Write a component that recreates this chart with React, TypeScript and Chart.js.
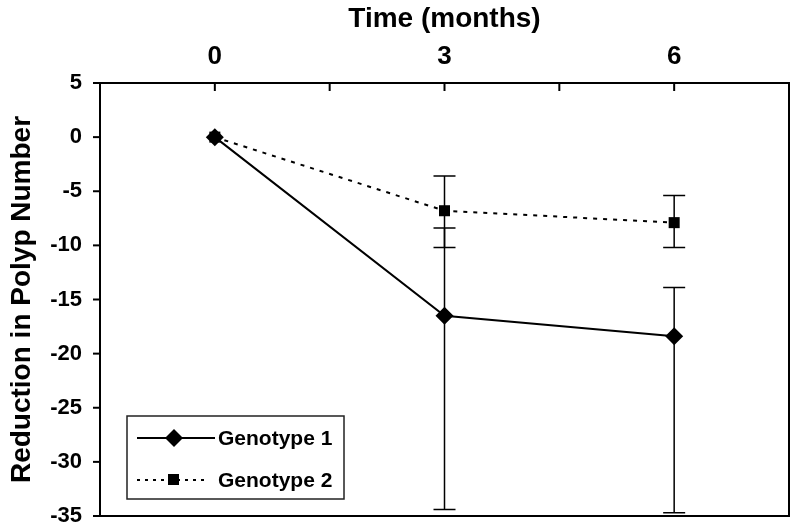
import React, { useEffect, useRef } from "react";
import { Chart, registerables } from "chart.js";
Chart.register(...registerables);

// ---- data ----
const months = [0, 3, 6];
const xTickValues = [-1.5, 0, 1.5, 3, 4.5, 6, 7.5];
const xLabelValues = [0, 3, 6];
const genotype1 = [0, -16.5, -18.4];
const genotype1Upper = [null, -8.4, -13.9];
const genotype1Lower = [null, -34.4, -34.7];
const genotype2 = [0, -6.8, -7.9];
const genotype2Upper = [null, -3.6, -5.4];
const genotype2Lower = [null, -10.2, -10.2];
const seriesNames = ["Genotype 1", "Genotype 2"];
const xTitle = "Time (months)";
const yTitle = "Reduction in Polyp Number";
const yMin = -35;
const yMax = 5;
const yStep = 5;
const xMin = -1.5;
const xMax = 7.5;

const FONT = "'Liberation Sans', Arial, sans-serif";

const errorBars = [
  { upper: genotype1Upper, lower: genotype1Lower },
  { upper: genotype2Upper, lower: genotype2Lower },
];

const errorBarPlugin = {
  id: "errorBars",
  beforeDatasetsDraw(chart: any) {
    const { ctx, scales } = chart;
    ctx.save();
    ctx.strokeStyle = "#000";
    ctx.lineWidth = 1.5;
    errorBars.forEach((eb) => {
      months.forEach((m, i) => {
        const up = eb.upper[i];
        const lo = eb.lower[i];
        if (up == null || lo == null) return;
        const x = scales.x.getPixelForValue(m);
        const y1 = scales.y.getPixelForValue(up);
        const y2 = scales.y.getPixelForValue(lo);
        ctx.beginPath();
        ctx.moveTo(x, y1);
        ctx.lineTo(x, y2);
        ctx.moveTo(x - 11, y1);
        ctx.lineTo(x + 11, y1);
        ctx.moveTo(x - 11, y2);
        ctx.lineTo(x + 11, y2);
        ctx.stroke();
      });
    });
    ctx.restore();
  },
};

const framePlugin = {
  id: "frame",
  afterDraw(chart: any) {
    const { ctx, chartArea: a, scales } = chart;
    ctx.save();
    ctx.strokeStyle = "#000";
    ctx.lineWidth = 2;
    ctx.strokeRect(a.left, a.top, a.right - a.left, a.bottom - a.top);
    xTickValues.forEach((v) => {
      const x = scales.x.getPixelForValue(v);
      ctx.beginPath();
      ctx.moveTo(x, a.top);
      ctx.lineTo(x, a.top + 8);
      ctx.stroke();
    });
    scales.y.ticks.forEach((t: any) => {
      const y = scales.y.getPixelForValue(t.value);
      ctx.beginPath();
      ctx.moveTo(a.left - 7, y);
      ctx.lineTo(a.left, y);
      ctx.stroke();
    });

    // legend
    const lx = a.left + 27;
    const ly = a.top + 333;
    const lw = 217;
    const lh = 83;
    ctx.fillStyle = "#fff";
    ctx.fillRect(lx, ly, lw, lh);
    ctx.lineWidth = 1.5;
    ctx.strokeStyle = "#222";
    ctx.strokeRect(lx, ly, lw, lh);

    ctx.strokeStyle = "#000";
    ctx.fillStyle = "#000";
    // entry 1
    const r1y = ly + 22;
    ctx.lineWidth = 2;
    ctx.setLineDash([]);
    ctx.beginPath();
    ctx.moveTo(lx + 10, r1y);
    ctx.lineTo(lx + 88, r1y);
    ctx.stroke();
    const d1x = lx + 47;
    ctx.beginPath();
    ctx.moveTo(d1x, r1y - 9);
    ctx.lineTo(d1x + 9, r1y);
    ctx.lineTo(d1x, r1y + 9);
    ctx.lineTo(d1x - 9, r1y);
    ctx.closePath();
    ctx.fill();
    // entry 2
    const r2y = ly + 64;
    ctx.setLineDash([3, 5]);
    ctx.beginPath();
    ctx.moveTo(lx + 10, r2y);
    ctx.lineTo(lx + 82, r2y);
    ctx.stroke();
    ctx.setLineDash([]);
    ctx.fillRect(lx + 41, r2y - 6, 11, 11);

    ctx.font = `bold 21px ${FONT}`;
    ctx.textBaseline = "middle";
    ctx.textAlign = "left";
    ctx.fillText(seriesNames[0], lx + 91, r1y + 1);
    ctx.fillText(seriesNames[1], lx + 91, r2y + 1);
    ctx.restore();
  },
};

export default function App() {
  const ref = useRef<HTMLCanvasElement>(null);
  useEffect(() => {
    if (!ref.current) return;
    const chart = new Chart(ref.current, {
      type: "line",
      data: {
        datasets: [
          {
            label: seriesNames[0],
            data: months.map((m, i) => ({ x: m, y: genotype1[i] })),
            borderColor: "#000",
            backgroundColor: "#000",
            borderWidth: 2,
            pointStyle: "rectRot",
            pointRadius: 9,
            pointBorderWidth: 0,
            pointBackgroundColor: "#000",
            tension: 0,
          },
          {
            label: seriesNames[1],
            data: months.map((m, i) => ({ x: m, y: genotype2[i] })),
            borderColor: "#000",
            backgroundColor: "#000",
            borderWidth: 2,
            borderDash: [4, 6],
            pointStyle: "rect",
            pointRadius: 7.8,
            pointBorderWidth: 0,
            pointBackgroundColor: "#000",
            tension: 0,
          },
        ],
      },
      options: {
        responsive: false,
        animation: false,
        devicePixelRatio: 1,
        layout: { padding: { left: 0, right: 11, top: 0, bottom: 16 } },
        plugins: { legend: { display: false }, tooltip: { enabled: false } },
        scales: {
          x: {
            type: "linear",
            position: "top",
            min: xMin,
            max: xMax,
            afterBuildTicks: (s: any) => {
              s.ticks = xTickValues.map((v) => ({ value: v }));
            },
            afterFit: (s: any) => {
              s.height = 83;
            },
            grid: { display: false },
            border: { display: false },
            ticks: {
              autoSkip: false,
              maxRotation: 0,
              padding: 3,
              color: "#000",
              font: { family: FONT, size: 26, weight: "bold" },
              callback: (v: any) => (xLabelValues.includes(Number(v)) ? String(v) : ""),
            },
            title: {
              display: true,
              text: xTitle,
              color: "#000",
              font: { family: FONT, size: 28, weight: "bold" },
              padding: { top: 2, bottom: 0 },
            },
          },
          y: {
            min: yMin,
            max: yMax,
            afterFit: (s: any) => {
              s.width = 100;
            },
            grid: {
              drawOnChartArea: false,
              drawTicks: true,
              tickLength: 18,
              color: "rgba(0,0,0,0)",
              tickColor: "rgba(0,0,0,0)",
            },
            border: { display: false },
            ticks: {
              stepSize: yStep,
              padding: 0,
              color: "#000",
              font: { family: FONT, size: 22, weight: "bold" },
            },
            title: {
              display: true,
              text: yTitle,
              color: "#000",
              font: { family: FONT, size: 28, weight: "bold" },
              padding: { top: 5, bottom: 0 },
            },
          },
        },
      },
      plugins: [errorBarPlugin, framePlugin],
    } as any);
    return () => chart.destroy();
  }, []);
  return (
    <div style={{ position: "absolute", left: 0, top: 0, width: 800, height: 532, background: "#fff" }}>
      <canvas ref={ref} width={800} height={532} />
    </div>
  );
}
